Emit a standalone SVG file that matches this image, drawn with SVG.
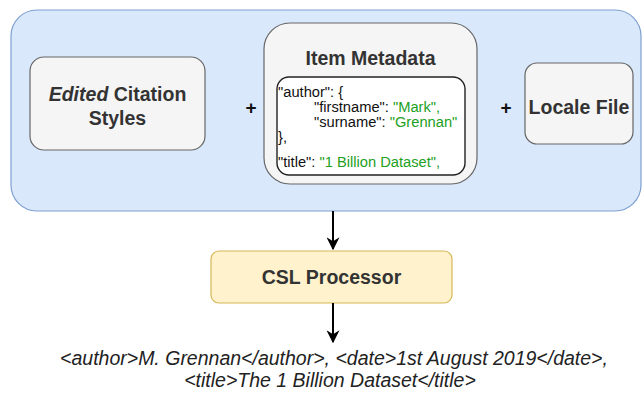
<svg xmlns="http://www.w3.org/2000/svg" width="642" height="394" viewBox="0 0 642 394">
<defs>
<style>
.node{fill:#f5f5f5;stroke:#666666;stroke-width:1.2}
.lbl{font-family:"Liberation Sans",Arial,sans-serif;font-weight:bold;font-size:19.5px;fill:#333333;text-anchor:middle}
.code{font-family:"Liberation Sans",Arial,sans-serif;font-size:14.7px;fill:#111111}
.g{fill:#22a022}
.out{font-family:"Liberation Sans",Arial,sans-serif;font-style:italic;font-size:19.5px;fill:#222222;text-anchor:middle}
.plus{font-family:"Liberation Sans",Arial,sans-serif;font-weight:bold;font-size:19px;fill:#111111;text-anchor:middle}
.conn{stroke:#000000;stroke-width:2;fill:none}
</style>
<marker id="ah" viewBox="0 0 10 10" refX="9" refY="5" markerWidth="6.5" markerHeight="6.5" orient="auto" markerUnits="strokeWidth">
<path d="M0,0 L10,5 L0,10 L3,5 Z" fill="#000000"/>
</marker>
</defs>
<rect width="642" height="394" fill="#ffffff"/>
<g id="container">
<rect x="11" y="10" width="630" height="201" rx="26" ry="26" fill="#dae8fc" stroke="#7ea0d0" stroke-width="1.2"/>
</g>
<g id="edited-styles">
<rect class="node" x="30" y="57" width="175" height="93" rx="14" ry="14"/>
<text class="lbl" x="117.5" y="101"><tspan font-style="italic">Edited</tspan> Citation</text>
<text class="lbl" x="117.5" y="125">Styles</text>
</g>
<text class="plus" x="251" y="114">+</text>
<g id="item-metadata">
<rect class="node" x="264" y="23" width="213" height="161" rx="26" ry="26"/>
<text class="lbl" x="370.5" y="65">Item Metadata</text>
<rect x="277" y="77" width="188" height="98" rx="12" ry="12" fill="#ffffff" stroke="#222222" stroke-width="1.4"/>
<text class="code" x="278" y="97">"author": {</text>
<text class="code" x="314" y="112">"firstname": <tspan class="g">"Mark",</tspan></text>
<text class="code" x="314" y="127">"surname": <tspan class="g">"Grennan"</tspan></text>
<text class="code" x="278" y="142">},</text>
<text class="code" x="278" y="167">"title": <tspan class="g">"1 Billion Dataset",</tspan></text>
</g>
<text class="plus" x="506" y="114">+</text>
<g id="locale-file">
<rect class="node" x="525" y="63" width="108" height="81" rx="12" ry="12"/>
<text class="lbl" x="579" y="114">Locale File</text>
</g>
<g id="csl-processor">
<rect x="211" y="251" width="241" height="52" rx="8" ry="8" fill="#fff2cc" stroke="#d6b656" stroke-width="1.2"/>
<text class="lbl" x="331.5" y="284">CSL Processor</text>
</g>
<g id="connectors">
<line class="conn" x1="333" y1="211" x2="333" y2="249" marker-end="url(#ah)"/>
<line class="conn" x1="333" y1="303" x2="333" y2="342" marker-end="url(#ah)"/>
</g>
<g id="output">
<text class="out" x="334" y="365">&lt;author&gt;M. Grennan&lt;/author&gt;, &lt;date&gt;1st August 2019&lt;/date&gt;,</text>
<text class="out" x="330" y="387">&lt;title&gt;The 1 Billion Dataset&lt;/title&gt;</text>
</g>
</svg>
